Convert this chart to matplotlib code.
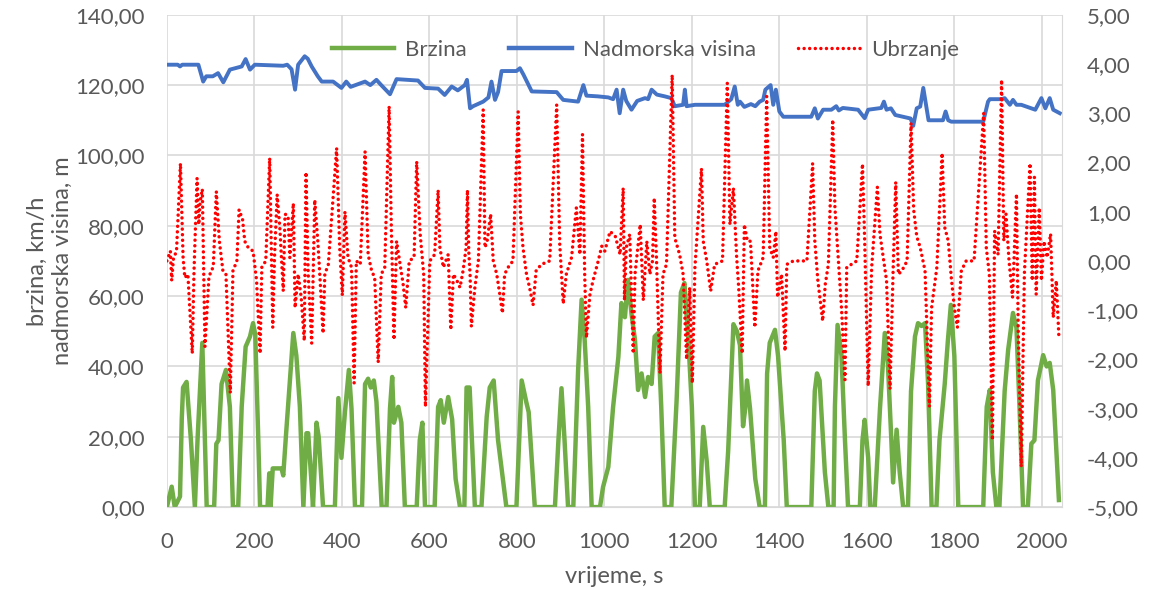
import matplotlib
matplotlib.use("Agg")
import matplotlib.pyplot as plt
from matplotlib.ticker import FuncFormatter, MultipleLocator
from matplotlib.lines import Line2D

# Brzina (km/h) - keypoints
speed_t = [0, 11, 18, 30, 34, 37, 45, 55, 64, 70, 81, 91, 108, 113, 118, 125, 135, 144, 151, 163, 171, 180, 190, 197, 202, 209, 213,
           230, 234, 237, 242, 262, 266, 272, 285, 289, 296, 304, 312, 319, 323, 330, 334, 342, 347, 357, 384, 392, 399, 407, 416,
           422, 430, 446, 453, 460, 466, 473, 479, 491, 502, 510, 515, 519, 529, 536, 544, 571, 578, 584, 590, 612, 620, 626, 633,
           643, 652, 660, 670, 680, 685, 692, 704, 719, 731, 738, 747, 757, 776, 799, 811, 822, 827, 841, 887, 895, 902, 909, 917,
           929, 940, 948, 955, 963, 971, 990, 997, 1009, 1020, 1032, 1039, 1047, 1054, 1062, 1070, 1077, 1085, 1093, 1100, 1108,
           1115, 1123, 1130, 1138, 1153, 1165, 1175, 1183, 1192, 1200, 1207, 1218, 1226, 1234, 1241, 1275, 1283, 1295, 1303, 1310,
           1317, 1322, 1326, 1333, 1345, 1355, 1367, 1372, 1378, 1390, 1397, 1410, 1417, 1473, 1481, 1486, 1492, 1504, 1512, 1524,
           1527, 1533, 1542, 1550, 1557, 1584, 1590, 1595, 1603, 1608, 1618, 1630, 1641, 1648, 1656, 1660, 1668, 1675, 1683, 1694,
           1701, 1710, 1717, 1725, 1733, 1740, 1748, 1759, 1766, 1778, 1785, 1792, 1800, 1809, 1866, 1874, 1881, 1888, 1896, 1903,
           1915, 1923, 1934, 1942, 1949, 1957, 1968, 1976, 1983, 1991, 2003, 2011, 2018, 2026, 2034, 2039]
speed_v = [0, 5.8, 0, 3, 25, 34, 35.6, 19, 0, 19, 46.7, 0, 0, 18, 19, 35, 39, 28.5, 0, 0, 28.5, 45.6, 48.5, 52.3, 49, 19, 0,
           0, 9.6, 0, 11, 11, 9, 20, 42.7, 49.5, 43, 28.5, 0, 21, 21, 8, 0, 24, 20, 0, 0, 31, 14, 27, 39,
           28, 0, 0, 35, 36.5, 34, 36, 30, 0, 0, 28, 37, 24, 28.5, 24, 0, 0, 19, 24, 0, 0, 28.5, 30.4, 24,
           31.3, 25, 8, 0, 0, 34, 34, 0, 0, 25.6, 34, 36, 19, 0, 0, 36, 29.6, 27, 0, 0, 19, 33.8, 19, 0,
           0, 39, 59, 47.5, 28.5, 0, 0, 5.7, 11.4, 28.5, 42.7, 58, 54, 64.6, 55, 47.5, 33.3, 38, 31.3, 37, 35,
           48.5, 49.5, 28.5, 0, 0, 30, 61, 63.7, 47.5, 28.5, 0, 0, 22.8, 13, 0, 0, 16, 52, 50, 46,
           23, 28, 36, 28, 8, 0, 0, 38, 46.7, 50.4, 43, 19, 0, 0, 33, 38, 36, 10, 0, 0,
           28.5, 51.8, 43, 19, 0, 0, 19, 24.8, 14, 0, 0, 28, 49.5, 41, 19, 7, 22, 10, 0, 0,
           33, 48.5, 52.3, 51.5, 52.3, 35, 0, 0, 19, 35, 47, 57.5, 43, 0, 0, 28.5, 33.3, 10, 0, 0,
           33, 44.7, 55.2, 51, 28.5, 0, 0, 18, 19, 36, 43.2, 40, 41, 33.3, 14, 2]

# Nadmorska visina (m)
alt_t = [0, 25, 30, 35, 72, 83, 90, 105, 117, 129, 144, 171, 180, 190, 201, 266, 275, 285, 293, 300, 315, 322, 331, 345, 354,
         380, 399, 410, 420, 453, 465, 479, 490, 510, 525, 574, 590, 620, 635, 651, 665, 681, 686, 693, 700, 723, 735, 742,
         750, 757, 765, 799, 807, 815, 834, 891, 906, 940, 952, 959, 985, 1009, 1020, 1028, 1035, 1043, 1050, 1062, 1075,
         1093, 1100, 1108, 1120, 1138, 1153, 1161, 1180, 1184, 1188, 1207, 1275, 1290, 1298, 1305, 1310, 1320, 1335, 1345,
         1355, 1363, 1368, 1380, 1386, 1392, 1400, 1409, 1473, 1481, 1488, 1500, 1519, 1530, 1536, 1545, 1580, 1595, 1603,
         1633, 1639, 1645, 1655, 1665, 1683, 1700, 1706, 1714, 1722, 1729, 1736, 1741, 1774, 1780, 1786, 1793, 1866, 1877,
         1881, 1908, 1915, 1927, 1934, 1942, 1953, 1976, 1985, 1999, 2008, 2018, 2026, 2041]
alt_v = [125.8, 125.8, 125.3, 125.8, 125.8, 121, 122.5, 122.5, 123.4, 120.8, 124.4, 125.3, 127.4, 124.4, 125.8, 125.5, 125.8,
         124.5, 118.7, 125.8, 128.2, 127.5, 125.3, 122.5, 121, 121, 119.2, 121, 119.5, 121, 120, 121.5, 120, 117.4, 121.7,
         121.3, 119.2, 119.0, 117.2, 119.6, 118.5, 120, 121.5, 113.4, 114, 115.3, 116.5, 121, 115.8, 118, 124, 124, 124.8,
         123, 118.2, 118, 115.8, 115.3, 120, 117, 116.8, 116.5, 116, 118.7, 112, 118.7, 115.5, 113, 115.5, 116.3, 116.0,
         118.7, 117.3, 116.8, 116.3, 114, 114.4, 118.7, 114, 114.4, 114.4, 116, 119.6, 114.4, 115.3, 113.8, 114.6, 114,
         115.3, 115.8, 118.7, 120, 114.4, 118.7, 112.5, 111, 111, 113.4, 110.5, 113, 113, 114, 112.8, 113.5, 113, 110.6, 113,
         113.5, 115.3, 113, 113.4, 111.5, 111, 110.5, 108.4, 113.4, 113.9, 119.2, 113.9, 110, 110, 112.5, 110, 109.6, 109.6,
         115.3, 116, 116, 116.3, 114.4, 115.8, 114.4, 114.4, 113.4, 113, 116.3, 113.4, 116.3, 113, 112]

# Ubrzanje (secondary axis)
acc_t = [0, 8, 11, 15, 22, 31, 37, 41, 48, 58, 62, 69, 73, 76, 81, 83, 87, 96, 101, 106, 113, 120, 128, 135, 145, 151, 160,
         165, 173, 178, 186, 197, 205, 213, 217, 226, 235, 242, 246, 252, 258, 266, 270, 277, 281, 289, 293, 300, 307, 314,
         318, 323, 331, 338, 345, 349, 357, 361, 369, 388, 395, 401, 407, 414, 422, 428, 433, 442, 453, 460, 468, 475, 483,
         490, 498, 508, 513, 519, 525, 532, 540, 546, 554, 565, 571, 579, 587, 591, 601, 612, 620, 624, 632, 643, 649, 655,
         663, 670, 677, 684, 687, 690, 693, 696, 704, 712, 723, 727, 732, 740, 746, 754, 761, 767, 772, 780, 791, 803, 808,
         814, 822, 829, 837, 844, 856, 875, 891, 898, 906, 913, 925, 936, 944, 950, 955, 959, 967, 974, 986, 994, 1001, 1013,
         1025, 1036, 1043, 1046, 1050, 1058, 1066, 1070, 1078, 1082, 1089, 1097, 1104, 1110, 1114, 1119, 1127, 1134, 1142,
         1155, 1161, 1172, 1180, 1188, 1195, 1201, 1207, 1222, 1226, 1234, 1243, 1252, 1270, 1281, 1287, 1295, 1302, 1307,
         1315, 1320, 1327, 1334, 1344, 1351, 1363, 1371, 1378, 1386, 1392, 1396, 1405, 1413, 1417, 1432, 1463, 1476, 1481,
         1488, 1499, 1505, 1512, 1522, 1527, 1535, 1542, 1550, 1554, 1577, 1590, 1595, 1603, 1611, 1624, 1630, 1645, 1653,
         1660, 1666, 1672, 1680, 1692, 1701, 1707, 1714, 1722, 1733, 1743, 1748, 1760, 1772, 1778, 1786, 1793, 1800, 1807,
         1816, 1827, 1845, 1867, 1873, 1880, 1887, 1892, 1900, 1908, 1913, 1918, 1925, 1933, 1942, 1946, 1953, 1960, 1973,
         1978, 1983, 1987, 1994, 1999, 2005, 2012, 2020, 2026, 2033, 2039]
acc_v = [0, 0.2, -0.4, 0.05, 0.2, 1.98, 0.07, -0.34, -0.27, -1.88, -0.2, 1.68, 0.74, 1.2, 1.46, 0.4, -1.74, -0.34, -0.2, -0.13,
         1.41, 0.4, -0.2, -0.27, -2.68, -0.2, 0, 1.04, 0.84, 0.4, 0.27, 0.2, -0.4, -1.88, -0.13, 0, 2.09, -1.35, 0.07, 1.35,
         0.7, -0.61, 0.95, 0.92, 0.07, 1.17, -0.95, -0.27, -0.74, -1.62, 1.8, -0.27, -1.67, 1.24, 0.4, -0.2, -1.47, -0.27,
         -0.07, 2.29, 0.27, -0.7, 1.0, 0.07, -0.13, -2.48, 0, -0.07, 2.22, 0.13, -0.2, -0.34, -2.06, -0.27, -0.13, 3.14, 0.68,
         -1.6, 0.4, 0, -0.47, -0.95, 0, 0.07, 2.02, 0.54, -0.27, -2.96, 0, 0.13, 1.44, 0.27, -0.13, 0.13, -1.4, -0.27, -0.4,
         -0.54, -0.2, 0.27, 1.44, 0.2, -0.27, -1.33, -0.54, 0, 3.07, 0.27, 0.4, 0.95, 0, -0.27, -0.68, -1.06, -0.27, -0.13, 0,
         3.03, 0.95, 0.27, -0.27, -0.54, -0.9, -0.2, -0.07, 0, 3.17, 0.34, -0.87, -0.27, 0.07, 1.08, 0.13, 2.57, -0.27, -1.56,
         -0.68, -0.4, 0, 0.3, 0.2, 0.6, 0.5, 0.13, 1.48, -0.8, 0.27, 0.54, -1.88, -0.27, 0.4, 0.74, -0.8, 0.4, -0.27, 0, 1.28,
         0.07, -2.28, -0.27, -0.07, 3.78, 0.47, 0.13, -0.27, -2.0, -0.54, -2.48, -0.13, 1.88, 0.4, 0, -0.61, -0.07, 0, 3.61,
         0.74, 1.48, 0.13, -0.54, -1.88, 0.74, 0.4, 0.4, -1.35, -0.2, 0.07, 3.34, 0.27, 0.07, 0.6, -0.74, -0.27, -1.83, -0.07,
         0, 0, 1.98, 0.41, -0.4, -1.22, -0.47, -0.07, 2.87, 1.08, 0, -0.95, -2.41, -0.13, 0, 1.97, 0.41, -2.54, -0.13, 1.5,
         0.54, -0.4, -2.6, -0.2, 1.6, -0.27, -0.2, 0, 2.8, 1.04, 0.5, 0.27, -0.2, -2.96, -0.95, -0.13, 2.19, 0.68, 0.41, -0.34,
         -0.95, -1.35, -0.2, 0, 0, 3.0, 0.27, -0.27, -3.64, 0.61, 0.13, 3.68, 0.41, 0.95, 0, -0.74, 1.36, -1.42, -4.18, -0.27,
         1.98, -0.4, 1.7, -0.68, 1.08, -0.4, 0.4, 0.07, 0.55, -1.15, -0.4, -1.56]

plt.rcParams['font.family'] = ['Lato', 'DejaVu Sans']
txt = '#595959'
green = '#70AD47'
blue = '#4472C4'
red = '#FF0000'
dots = (0, (0.01, 1.6))

fig = plt.figure(figsize=(11.67, 5.91), dpi=100)
ax = fig.add_axes([0.143, 0.142, 0.767, 0.833])
ax2 = ax.twinx()

ax.plot(speed_t, speed_v, color=green, lw=3.2, solid_joinstyle='round')
ax.plot(alt_t, alt_v, color=blue, lw=2.8, solid_joinstyle='round')
ax2.plot(acc_t, acc_v, color=red, lw=2.5, linestyle=dots, dash_capstyle='round')

ax.set_xlim(0, 2046)
ax.set_ylim(0, 140)
ax2.set_ylim(-5, 5)
ax.xaxis.set_major_locator(MultipleLocator(200))
ax.yaxis.set_major_locator(MultipleLocator(20))
ax2.yaxis.set_major_locator(MultipleLocator(1))

fmt = FuncFormatter(lambda v, p: f"{v:.2f}".replace('.', ','))
ax.yaxis.set_major_formatter(fmt)
ax2.yaxis.set_major_formatter(fmt)

ax.grid(True, color='#d9d9d9', lw=1.2)
ax.set_axisbelow(True)
for a in (ax, ax2):
    for s in a.spines.values():
        s.set_visible(False)
    a.tick_params(length=0, labelsize=16, colors=txt)
ax.tick_params(axis='y', pad=16)
ax.tick_params(axis='x', pad=18)
ax2.tick_params(axis='y', pad=18)
ax2.spines['right'].set_visible(True)
ax2.spines['right'].set_color('#d9d9d9')
ax.spines['bottom'].set_visible(True)
ax.spines['bottom'].set_color('#d9d9d9')

ax.set_xlabel('vrijeme, s', fontsize=17, color=txt, labelpad=10)
ax.set_ylabel('brzina, km/h\nnadmorska visina, m', fontsize=17, color=txt, labelpad=2)

handles = [Line2D([], [], color=green, lw=3.2),
           Line2D([], [], color=blue, lw=3.2),
           Line2D([], [], color=red, lw=2.5, linestyle=dots, dash_capstyle='round')]
leg = ax2.legend(handles, ['Brzina', 'Nadmorska visina', 'Ubrzanje'], loc='upper center',
                 bbox_to_anchor=(0.535, 0.99), ncol=3, frameon=False, fontsize=16,
                 handlelength=2.8, columnspacing=1.9, handletextpad=0.5)
for t in leg.get_texts():
    t.set_color(txt)

fig.savefig('out.png', dpi=100)
